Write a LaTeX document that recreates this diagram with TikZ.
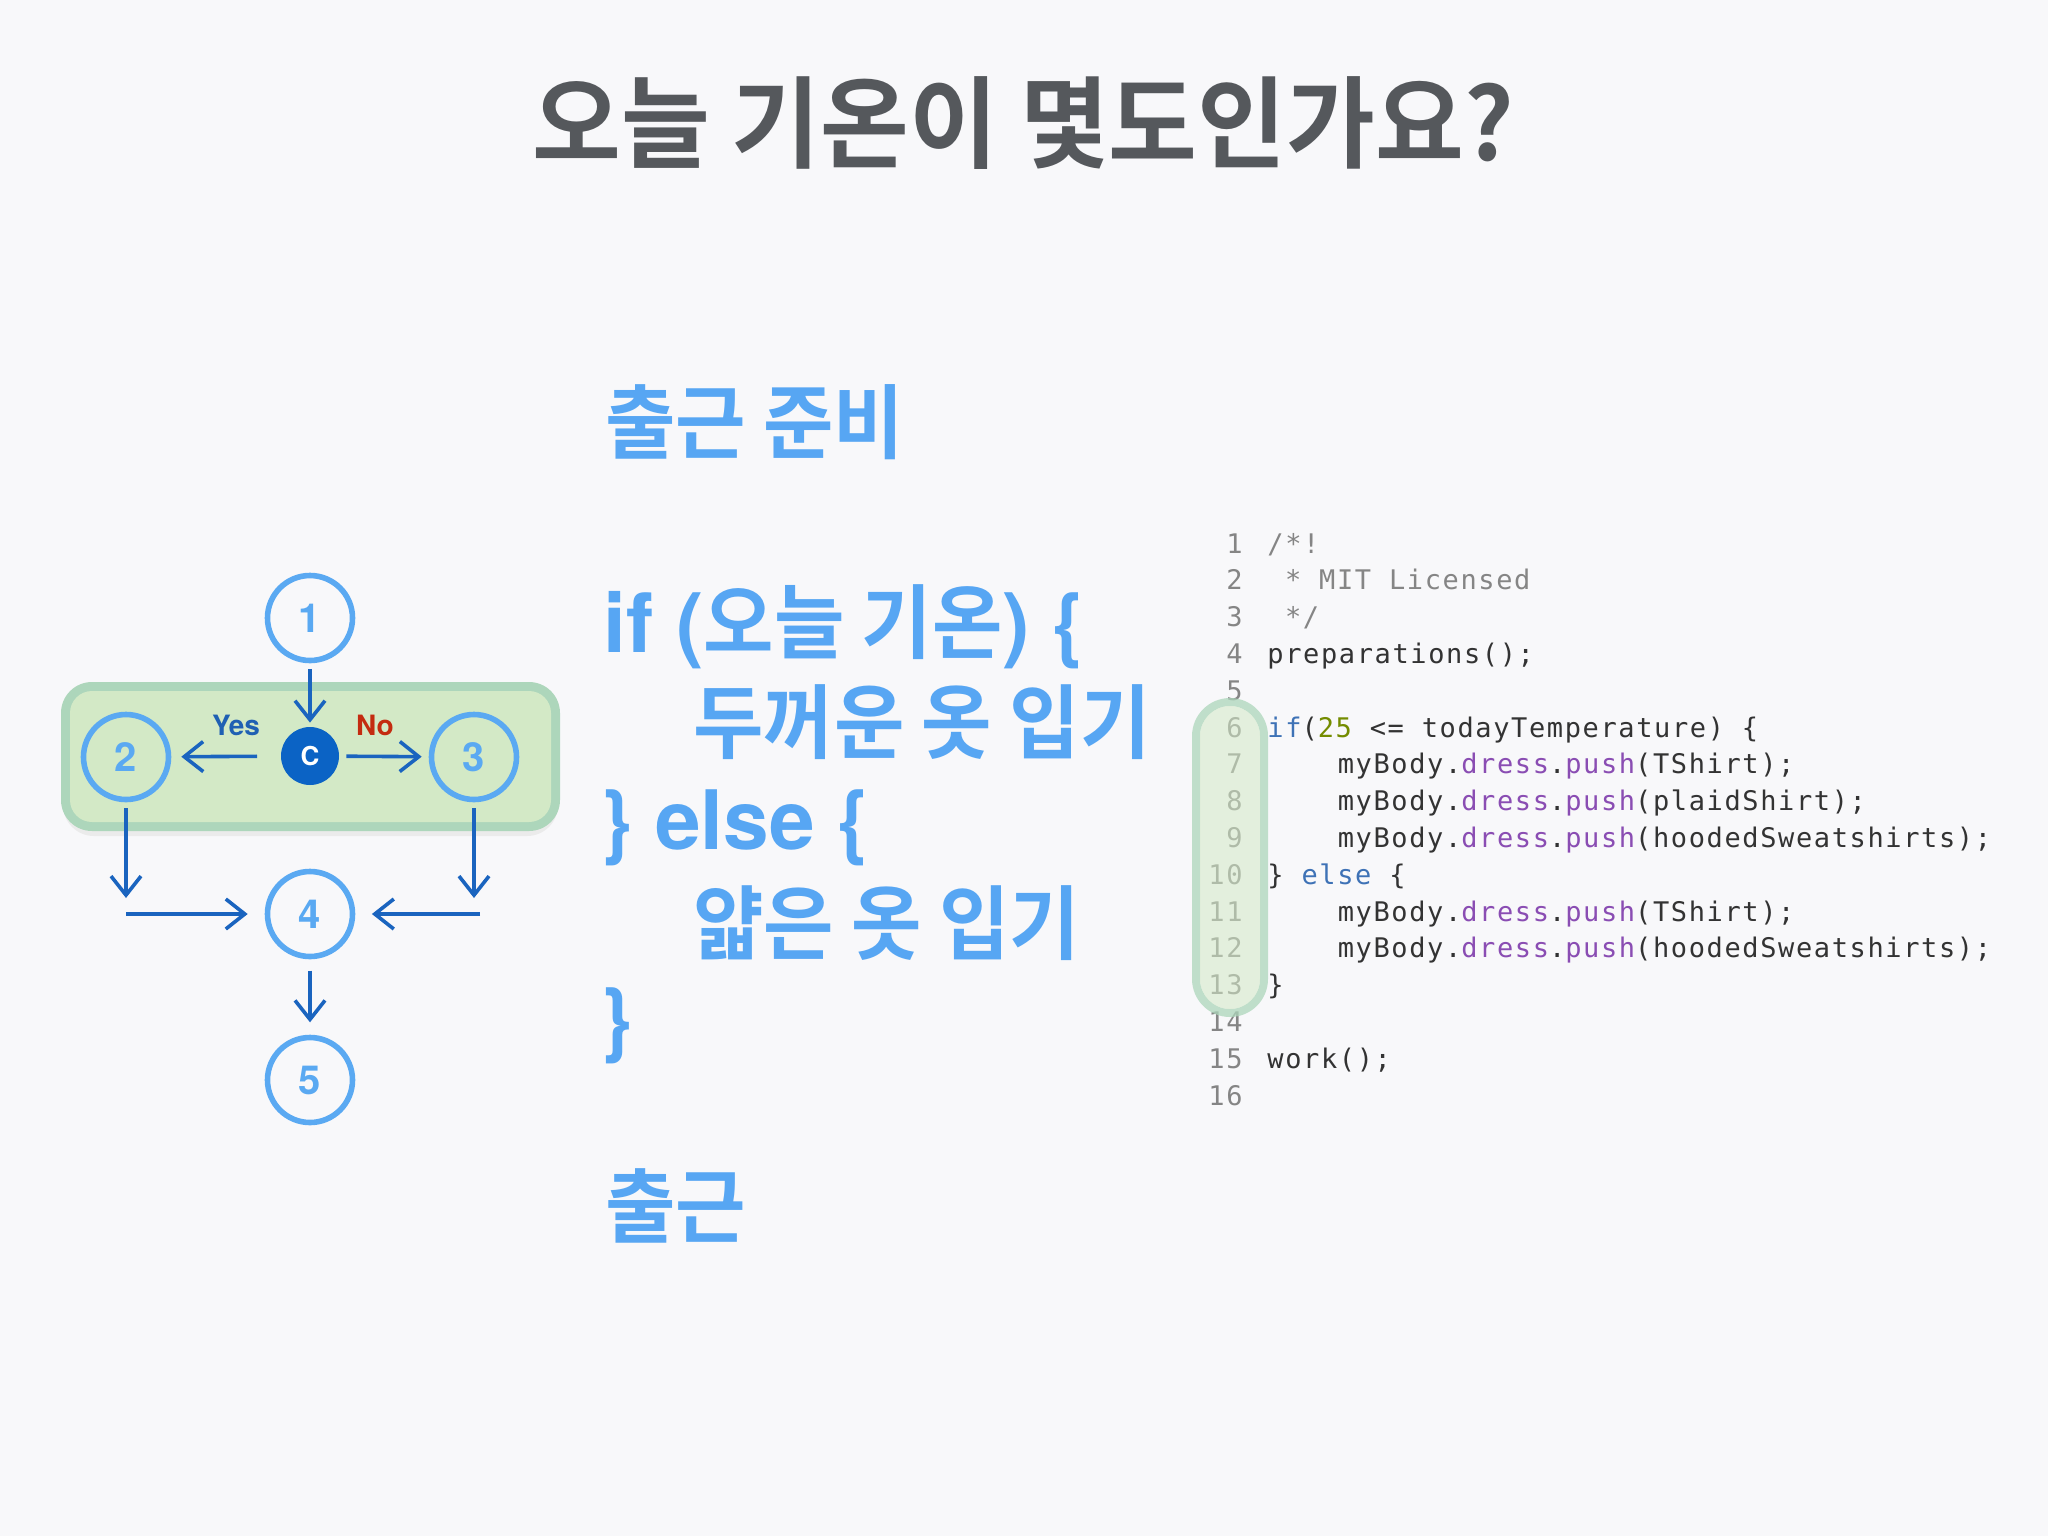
\documentclass[tikz,border=0pt]{standalone}
\usepackage{fontspec}
\usetikzlibrary{arrows.meta}
\newfontfamily\ttlfont{Noto Sans CJK KR Bold}[FakeStretch=0.965]
\newfontfamily\kmidfont{Noto Sans CJK KR Bold}[FakeStretch=0.945]
\newfontfamily\latfont{TeX Gyre Heros}
\newfontfamily\codefont{DejaVu Sans Mono}[LetterSpace=6]
\definecolor{bg}{HTML}{F8F8FA}
\definecolor{titlegray}{HTML}{55585C}
\definecolor{kblue}{HTML}{57A6F3}
\definecolor{cstroke}{HTML}{5AA9F2}
\definecolor{ablue}{HTML}{1A64BF}
\definecolor{cfill}{HTML}{0B63C5}
\definecolor{yesc}{HTML}{1F60B3}
\definecolor{noc}{HTML}{C42B10}
\definecolor{gouter}{HTML}{ADD6BB}
\definecolor{ginner}{HTML}{D3E9C6}
\definecolor{cdark}{HTML}{333333}
\definecolor{cgray}{HTML}{858585}
\definecolor{cpurple}{HTML}{8A4DB3}
\definecolor{ckey}{HTML}{3E72B6}
\definecolor{colive}{HTML}{748C00}
\tikzset{
  circ/.style={circle, draw=cstroke, line width=2.8pt, minimum size=42.5pt, inner sep=0pt,
    text=cstroke, font=\latfont\bfseries\fontsize{20pt}{20pt}\selectfont},
  cnode/.style={circle, fill=cfill, minimum size=29pt, inner sep=0pt, text=white,
    font=\latfont\bfseries\fontsize{13pt}{13pt}\selectfont},
  arr/.style={-{Straight Barb[length=9.5pt,width=15pt]}, line width=1.8pt, draw=ablue},
  lbl/.style={font=\latfont\bfseries\fontsize{14pt}{14pt}\selectfont, inner sep=0pt},
  midtxt/.style={anchor=base west, inner sep=0pt, text=kblue},
  lnum/.style={anchor=base east, inner sep=0pt, text=cgray, font=\codefont\fontsize{13.5pt}{13.5pt}\selectfont},
  codeln/.style={anchor=base west, inner sep=0pt, text=cdark, font=\codefont\fontsize{13.5pt}{13.5pt}\selectfont},
}
\newcommand{\kortxt}[1]{{\kmidfont\fontsize{40.5pt}{40.5pt}\selectfont #1}}
\newcommand{\lattxt}[1]{{\latfont\bfseries\fontsize{41pt}{41pt}\selectfont #1}}
\newcommand{\purp}[1]{\textcolor{cpurple}{#1}}
\begin{document}
\begin{tikzpicture}[x=0.5pt,y=-0.5pt]
\useasboundingbox (0,0) rectangle (2048,1536);
\fill[bg] (0,0) rectangle (2048,1536);

% title
\node[anchor=base, inner sep=0pt, text=titlegray, font=\ttlfont\fontsize{50pt}{50pt}\selectfont] (title) at (1023,160) {오늘 기온이 몇도인가요?};

% flowchart green band
\fill[black!8, rounded corners=15.5pt] (63,686) rectangle (558,836);
\fill[gouter, rounded corners=15.5pt] (61,682) rectangle (560,831);
\fill[ginner, rounded corners=11pt] (70,691) rectangle (551,822);

% flowchart nodes
\node[circ] (n1) at (310,618) {1};
\node[cnode] (nc) at (310,756) {C};
\node[circ] (n2) at (126,757) {2};
\node[circ] (n3) at (474,757) {3};
\node[circ] (n4) at (310,914) {4};
\node[circ] (n5) at (310,1080) {5};
\node[lbl, text=yesc] (yes) at (236,725) {Yes};
\node[lbl, text=noc] (no) at (375,725) {No};
\coordinate (c2d) at (126,898);
\coordinate (c2h) at (126,914);
\coordinate (c3d) at (474,898);
\coordinate (c3h) at (480,914);

\draw[arr, shorten <=2.8pt, shorten >=2pt] (n1) -- (nc);
\draw[arr, shorten <=11.8pt, shorten >=5pt] (nc) -- (n2);
\draw[arr, shorten <=3.5pt, shorten >=3.5pt] (nc) -- (n3);
\draw[arr, shorten <=3pt] (n2) -- (c2d);
\draw[arr, shorten >=8.5pt] (c2h) -- (n4);
\draw[arr, shorten <=3pt] (n3) -- (c3d);
\draw[arr, shorten >=8.3pt] (c3h) -- (n4);
\draw[arr, shorten <=5.7pt, shorten >=6.2pt] (n4) -- (n5);

% middle pseudo-code
\node[midtxt] (m1) at (605,452) {\kortxt{출근 준비}};
\node[midtxt] (m2) at (603,652) {\lattxt{if (}\kortxt{오늘 기온}\lattxt{) \{}};
\node[midtxt] (m3) at (693,752) {\kortxt{두꺼운 옷 입기}};
\node[midtxt] (m4) at (600,849) {\lattxt{\} else \{}};
\node[midtxt] (m5) at (693,953) {\kortxt{얇은 옷 입기}};
\node[midtxt] (m6) at (600,1047) {\lattxt{\}}};
\node[midtxt] (m7) at (605,1236) {\kortxt{출근}};

% code listing
\foreach \i in {1,...,16} {
  \node[lnum] (l\i) at (1243,{553+(\i-1)*36.8}) {\i};
}
\node[codeln, text=cgray] (c1) at (1267,553) {/*!};
\node[codeln, text=cgray] (c2) at (1284.6,589.8) {* MIT Licensed};
\node[codeln, text=cgray] (c3) at (1284.6,626.6) {*/};
\node[codeln] (c4) at (1267,663.4) {preparations();};
\node[codeln] (c6) at (1267,737) {\textcolor{ckey}{if}(\textcolor{colive}{25} <= todayTemperature) \{};
\node[codeln] (c7) at (1337.4,773.8) {myBody.\purp{dress}.\purp{push}(TShirt);};
\node[codeln] (c8) at (1337.4,810.6) {myBody.\purp{dress}.\purp{push}(plaidShirt);};
\node[codeln] (c9) at (1337.4,847.4) {myBody.\purp{dress}.\purp{push}(hoodedSweatshirts);};
\node[codeln] (c10) at (1267,884.2) {\} \textcolor{ckey}{else} \{};
\node[codeln] (c11) at (1337.4,921) {myBody.\purp{dress}.\purp{push}(TShirt);};
\node[codeln] (c12) at (1337.4,957.8) {myBody.\purp{dress}.\purp{push}(hoodedSweatshirts);};
\node[codeln] (c13) at (1267,994.6) {\}};
\node[codeln] (c15) at (1267,1068.2) {work();};

% code highlight capsule
\fill[gouter, fill opacity=0.75, even odd rule]
  [rounded corners=19pt] (1192,698) rectangle (1268,1017)
  [rounded corners=15pt] (1200,706) rectangle (1260,1009);
\fill[ginner, fill opacity=0.55, rounded corners=15pt] (1200,706) rectangle (1260,1009);
\end{tikzpicture}
\end{document}
